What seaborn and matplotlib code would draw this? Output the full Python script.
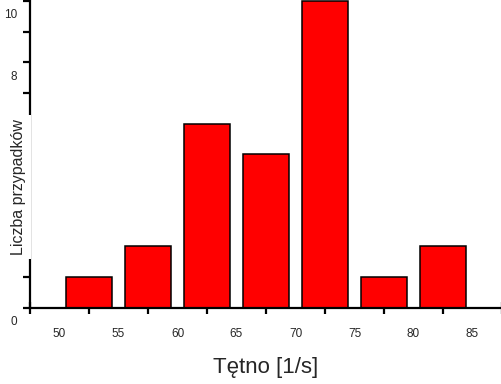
import matplotlib
matplotlib.use("Agg")
import matplotlib.pyplot as plt
from matplotlib.transforms import ScaledTranslation
import numpy as np
import pandas as pd
import seaborn as sns

# histogram bins (left edges, width 5) and counts
bin_left = [50, 55, 60, 65, 70, 75, 80]
bin_width = 5
counts = [1, 2, 6, 5, 10, 1, 2]
x_tick_labels = [50, 55, 60, 65, 70, 75, 80, 85]
y_tick_values = list(range(0, 11))
y_labelled = [0, 8, 10]  # 2, 4, 6 sit behind the axis title

sns.set_style("ticks")
plt.rcParams["font.family"] = ["Liberation Sans", "DejaVu Sans"]

data = pd.DataFrame({
    "center": [b + bin_width / 2 for b in bin_left],
    "count": counts,
})

fig = plt.figure(figsize=(5.02, 3.84), dpi=100)
ax = fig.add_axes([30 / 502, 76.5 / 384, 472 / 502, 307.5 / 384])

sns.barplot(data=data, x="center", y="count", native_scale=True, width=0.78,
            color="#ff0000", saturation=1, edgecolor="black", linewidth=1.1, ax=ax)

ax.set_xlim(47.5, 87.5)
ax.set_ylim(0, 10.03)
sns.despine(ax=ax)
for side in ("left", "bottom"):
    ax.spines[side].set_linewidth(1.6)
    ax.spines[side].set_color("black")

# x: labels at bin edges, tick marks at bin centres
ax.set_xticks(x_tick_labels)
ax.set_xticklabels([str(v) for v in x_tick_labels])
ax.set_xticks(np.arange(47.5, 88, 5), minor=True)
ax.tick_params(axis="x", which="major", length=0, pad=15, labelsize=8.5)
ax.tick_params(axis="x", which="minor", direction="inout", length=8, width=1.6, color="black")

# y: tick every unit, a few labels, shifted down a bit
ax.set_yticks(y_tick_values)
ax.set_yticklabels([str(v) if v in y_labelled else "" for v in y_tick_values])
ax.tick_params(axis="y", direction="out", length=5, width=1.6, color="black",
               pad=4, labelsize=8.5)
offset = ScaledTranslation(0, -13 / 100, fig.dpi_scale_trans)
for lbl in ax.get_yticklabels():
    lbl.set_transform(lbl.get_transform() + offset)

ax.set_xlabel("")
ax.set_ylabel("")
fig.text(266 / 502, 6 / 384, "Tętno [1/s]", ha="center", va="bottom", fontsize=16)
fig.text(19 / 502, 197 / 384, "Liczba przypadków", rotation=90, ha="center", va="center",
         fontsize=11.5, bbox=dict(facecolor="white", edgecolor="none", pad=3), zorder=5)

fig.savefig("out.png", dpi=100)
